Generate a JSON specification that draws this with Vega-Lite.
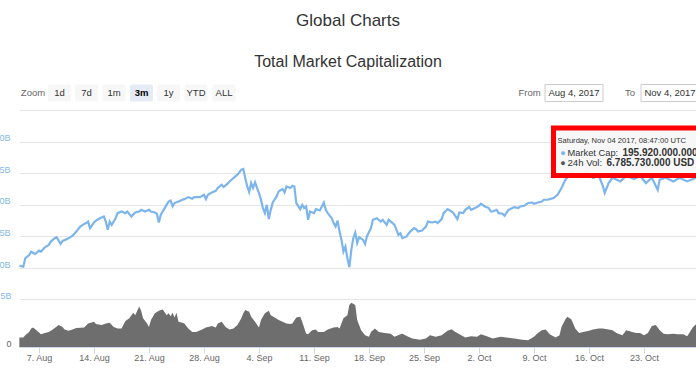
{
  "$schema": "https://vega.github.io/schema/vega-lite/v6.json",
  "width": 677,
  "height": 237,
  "autosize": {"type": "none"},
  "padding": {"left": 19, "top": 110, "right": 0, "bottom": 38},
  "background": "white",
  "title": {
    "text": "Global Charts",
    "subtitle": "Total Market Capitalization",
    "anchor": "middle",
    "dx": -9.5,
    "offset": 13,
    "font": "Liberation Sans",
    "fontSize": 17,
    "fontWeight": "normal",
    "color": "#333333",
    "subtitleFont": "Liberation Sans",
    "subtitleFontSize": 16,
    "subtitleColor": "#333333",
    "subtitlePadding": 24
  },
  "config": {
    "view": {"stroke": null},
    "font": "Liberation Sans",
    "text": {"font": "Liberation Sans"}
  },
  "datasets": {
    "cap": [
      {"t": "2017-08-04T12:00", "cap": 101.8}, {"t": "2017-08-05T00:00", "cap": 101.0}, {"t": "2017-08-05T06:00", "cap": 107.7},
      {"t": "2017-08-05T18:00", "cap": 110.3}, {"t": "2017-08-06T00:00", "cap": 112.9}, {"t": "2017-08-06T12:00", "cap": 111.1},
      {"t": "2017-08-07T00:00", "cap": 113.7}, {"t": "2017-08-07T06:00", "cap": 112.9}, {"t": "2017-08-07T18:00", "cap": 116.4},
      {"t": "2017-08-08T06:00", "cap": 118.3}, {"t": "2017-08-08T12:00", "cap": 120.9}, {"t": "2017-08-09T00:00", "cap": 123.6},
      {"t": "2017-08-09T06:00", "cap": 124.4}, {"t": "2017-08-09T18:00", "cap": 119.0}, {"t": "2017-08-10T00:00", "cap": 121.4},
      {"t": "2017-08-10T12:00", "cap": 122.8}, {"t": "2017-08-11T00:00", "cap": 124.4}, {"t": "2017-08-11T06:00", "cap": 125.4},
      {"t": "2017-08-11T18:00", "cap": 128.8}, {"t": "2017-08-12T06:00", "cap": 132.8}, {"t": "2017-08-12T18:00", "cap": 134.9},
      {"t": "2017-08-13T00:00", "cap": 135.5}, {"t": "2017-08-13T06:00", "cap": 136.7}, {"t": "2017-08-13T12:00", "cap": 131.5},
      {"t": "2017-08-14T00:00", "cap": 136.0}, {"t": "2017-08-14T06:00", "cap": 137.5}, {"t": "2017-08-14T18:00", "cap": 139.4},
      {"t": "2017-08-15T06:00", "cap": 140.7}, {"t": "2017-08-15T12:00", "cap": 136.7}, {"t": "2017-08-15T18:00", "cap": 130.2},
      {"t": "2017-08-16T00:00", "cap": 136.7}, {"t": "2017-08-16T06:00", "cap": 134.1}, {"t": "2017-08-16T18:00", "cap": 139.4},
      {"t": "2017-08-17T00:00", "cap": 143.4}, {"t": "2017-08-17T12:00", "cap": 144.7}, {"t": "2017-08-18T00:00", "cap": 143.4},
      {"t": "2017-08-18T06:00", "cap": 144.7}, {"t": "2017-08-18T18:00", "cap": 140.7}, {"t": "2017-08-19T06:00", "cap": 143.9},
      {"t": "2017-08-19T18:00", "cap": 144.7}, {"t": "2017-08-20T00:00", "cap": 146.0}, {"t": "2017-08-20T12:00", "cap": 144.7},
      {"t": "2017-08-21T00:00", "cap": 146.0}, {"t": "2017-08-21T06:00", "cap": 144.7}, {"t": "2017-08-21T18:00", "cap": 143.9},
      {"t": "2017-08-22T00:00", "cap": 142.9}, {"t": "2017-08-22T06:00", "cap": 136.0}, {"t": "2017-08-22T12:00", "cap": 142.1},
      {"t": "2017-08-23T00:00", "cap": 147.4}, {"t": "2017-08-23T12:00", "cap": 152.6}, {"t": "2017-08-23T18:00", "cap": 153.4},
      {"t": "2017-08-24T00:00", "cap": 148.7}, {"t": "2017-08-24T06:00", "cap": 151.4}, {"t": "2017-08-24T18:00", "cap": 152.6},
      {"t": "2017-08-25T06:00", "cap": 154.0}, {"t": "2017-08-25T12:00", "cap": 154.5}, {"t": "2017-08-26T00:00", "cap": 156.1},
      {"t": "2017-08-26T12:00", "cap": 154.8}, {"t": "2017-08-26T18:00", "cap": 156.1}, {"t": "2017-08-27T12:00", "cap": 156.1},
      {"t": "2017-08-28T00:00", "cap": 157.9}, {"t": "2017-08-28T06:00", "cap": 154.5}, {"t": "2017-08-28T12:00", "cap": 157.9},
      {"t": "2017-08-29T00:00", "cap": 159.8}, {"t": "2017-08-29T12:00", "cap": 161.1}, {"t": "2017-08-29T18:00", "cap": 163.3},
      {"t": "2017-08-30T06:00", "cap": 165.9}, {"t": "2017-08-30T12:00", "cap": 164.1}, {"t": "2017-08-31T00:00", "cap": 166.7},
      {"t": "2017-08-31T06:00", "cap": 168.5}, {"t": "2017-08-31T18:00", "cap": 171.2}, {"t": "2017-09-01T06:00", "cap": 173.8},
      {"t": "2017-09-01T12:00", "cap": 175.6}, {"t": "2017-09-01T18:00", "cap": 177.8}, {"t": "2017-09-02T00:00", "cap": 178.3},
      {"t": "2017-09-02T06:00", "cap": 171.2}, {"t": "2017-09-02T12:00", "cap": 164.5}, {"t": "2017-09-02T18:00", "cap": 160.1},
      {"t": "2017-09-03T00:00", "cap": 167.2}, {"t": "2017-09-03T06:00", "cap": 163.3}, {"t": "2017-09-03T12:00", "cap": 167.7},
      {"t": "2017-09-03T18:00", "cap": 163.3}, {"t": "2017-09-04T00:00", "cap": 159.3}, {"t": "2017-09-04T06:00", "cap": 154.0},
      {"t": "2017-09-04T12:00", "cap": 147.4}, {"t": "2017-09-04T18:00", "cap": 143.4}, {"t": "2017-09-05T00:00", "cap": 150.0},
      {"t": "2017-09-05T06:00", "cap": 138.7}, {"t": "2017-09-05T12:00", "cap": 146.0}, {"t": "2017-09-05T18:00", "cap": 151.8},
      {"t": "2017-09-06T06:00", "cap": 156.6}, {"t": "2017-09-06T12:00", "cap": 160.6}, {"t": "2017-09-07T00:00", "cap": 162.5},
      {"t": "2017-09-07T06:00", "cap": 159.8}, {"t": "2017-09-07T12:00", "cap": 164.5}, {"t": "2017-09-08T00:00", "cap": 163.3},
      {"t": "2017-09-08T06:00", "cap": 165.1}, {"t": "2017-09-08T12:00", "cap": 164.5}, {"t": "2017-09-08T18:00", "cap": 151.4},
      {"t": "2017-09-09T06:00", "cap": 146.6}, {"t": "2017-09-09T12:00", "cap": 150.0}, {"t": "2017-09-09T18:00", "cap": 147.4},
      {"t": "2017-09-10T00:00", "cap": 148.7}, {"t": "2017-09-10T06:00", "cap": 138.1}, {"t": "2017-09-10T12:00", "cap": 144.7},
      {"t": "2017-09-11T00:00", "cap": 143.4}, {"t": "2017-09-11T06:00", "cap": 146.6}, {"t": "2017-09-11T18:00", "cap": 145.5},
      {"t": "2017-09-12T00:00", "cap": 148.7}, {"t": "2017-09-12T06:00", "cap": 151.8}, {"t": "2017-09-12T12:00", "cap": 146.0},
      {"t": "2017-09-12T18:00", "cap": 143.4}, {"t": "2017-09-13T06:00", "cap": 139.4}, {"t": "2017-09-13T12:00", "cap": 135.5},
      {"t": "2017-09-13T18:00", "cap": 132.8}, {"t": "2017-09-14T00:00", "cap": 137.5}, {"t": "2017-09-14T06:00", "cap": 128.8},
      {"t": "2017-09-14T12:00", "cap": 122.2}, {"t": "2017-09-14T18:00", "cap": 112.9}, {"t": "2017-09-15T00:00", "cap": 116.9},
      {"t": "2017-09-15T06:00", "cap": 107.7}, {"t": "2017-09-15T12:00", "cap": 100.6}, {"t": "2017-09-15T18:00", "cap": 114.3},
      {"t": "2017-09-16T00:00", "cap": 123.6}, {"t": "2017-09-16T06:00", "cap": 128.0}, {"t": "2017-09-16T12:00", "cap": 119.8},
      {"t": "2017-09-16T18:00", "cap": 124.4}, {"t": "2017-09-17T06:00", "cap": 122.2}, {"t": "2017-09-17T12:00", "cap": 119.0},
      {"t": "2017-09-17T18:00", "cap": 125.4}, {"t": "2017-09-18T06:00", "cap": 131.5}, {"t": "2017-09-18T12:00", "cap": 138.1},
      {"t": "2017-09-19T00:00", "cap": 139.4}, {"t": "2017-09-19T12:00", "cap": 136.7}, {"t": "2017-09-19T18:00", "cap": 138.1},
      {"t": "2017-09-20T06:00", "cap": 134.1}, {"t": "2017-09-20T12:00", "cap": 138.1}, {"t": "2017-09-21T00:00", "cap": 135.5},
      {"t": "2017-09-21T06:00", "cap": 134.1}, {"t": "2017-09-21T18:00", "cap": 126.2}, {"t": "2017-09-22T00:00", "cap": 127.5},
      {"t": "2017-09-22T06:00", "cap": 123.6}, {"t": "2017-09-22T18:00", "cap": 124.8}, {"t": "2017-09-23T06:00", "cap": 128.8},
      {"t": "2017-09-23T18:00", "cap": 131.5}, {"t": "2017-09-24T00:00", "cap": 130.7}, {"t": "2017-09-24T06:00", "cap": 128.8},
      {"t": "2017-09-24T18:00", "cap": 129.6}, {"t": "2017-09-25T06:00", "cap": 132.8}, {"t": "2017-09-25T12:00", "cap": 136.7},
      {"t": "2017-09-26T00:00", "cap": 136.0}, {"t": "2017-09-26T12:00", "cap": 136.7}, {"t": "2017-09-26T18:00", "cap": 135.5},
      {"t": "2017-09-27T06:00", "cap": 138.7}, {"t": "2017-09-27T12:00", "cap": 143.4}, {"t": "2017-09-28T00:00", "cap": 146.6},
      {"t": "2017-09-28T12:00", "cap": 144.7}, {"t": "2017-09-28T18:00", "cap": 143.4}, {"t": "2017-09-29T06:00", "cap": 138.7},
      {"t": "2017-09-29T12:00", "cap": 143.9}, {"t": "2017-09-30T00:00", "cap": 143.4}, {"t": "2017-09-30T06:00", "cap": 146.0},
      {"t": "2017-09-30T18:00", "cap": 148.2}, {"t": "2017-10-01T00:00", "cap": 146.0}, {"t": "2017-10-01T12:00", "cap": 147.4},
      {"t": "2017-10-02T00:00", "cap": 149.2}, {"t": "2017-10-02T06:00", "cap": 150.8}, {"t": "2017-10-02T18:00", "cap": 148.7},
      {"t": "2017-10-03T06:00", "cap": 147.4}, {"t": "2017-10-03T12:00", "cap": 144.7}, {"t": "2017-10-03T18:00", "cap": 144.7},
      {"t": "2017-10-04T06:00", "cap": 146.0}, {"t": "2017-10-04T12:00", "cap": 143.4}, {"t": "2017-10-05T00:00", "cap": 142.9},
      {"t": "2017-10-05T06:00", "cap": 141.3}, {"t": "2017-10-05T18:00", "cap": 146.0}, {"t": "2017-10-06T00:00", "cap": 146.6},
      {"t": "2017-10-06T12:00", "cap": 148.2}, {"t": "2017-10-07T00:00", "cap": 147.4}, {"t": "2017-10-07T06:00", "cap": 148.7},
      {"t": "2017-10-07T18:00", "cap": 149.2}, {"t": "2017-10-08T06:00", "cap": 151.4}, {"t": "2017-10-08T18:00", "cap": 151.8},
      {"t": "2017-10-09T00:00", "cap": 150.8}, {"t": "2017-10-09T12:00", "cap": 151.8}, {"t": "2017-10-10T00:00", "cap": 152.6},
      {"t": "2017-10-10T06:00", "cap": 154.0}, {"t": "2017-10-10T18:00", "cap": 154.0}, {"t": "2017-10-11T00:00", "cap": 154.5},
      {"t": "2017-10-11T12:00", "cap": 155.3}, {"t": "2017-10-12T00:00", "cap": 157.9}, {"t": "2017-10-12T12:00", "cap": 163.3},
      {"t": "2017-10-13T00:00", "cap": 169.8}, {"t": "2017-10-13T12:00", "cap": 173.8}, {"t": "2017-10-13T18:00", "cap": 176.2},
      {"t": "2017-10-14T06:00", "cap": 174.6}, {"t": "2017-10-14T18:00", "cap": 173.0}, {"t": "2017-10-15T18:00", "cap": 176.2},
      {"t": "2017-10-16T12:00", "cap": 171.2}, {"t": "2017-10-17T06:00", "cap": 173.0}, {"t": "2017-10-17T18:00", "cap": 165.1},
      {"t": "2017-10-18T00:00", "cap": 159.3}, {"t": "2017-10-18T12:00", "cap": 167.2}, {"t": "2017-10-19T00:00", "cap": 171.4},
      {"t": "2017-10-20T00:00", "cap": 168.5}, {"t": "2017-10-20T18:00", "cap": 173.0}, {"t": "2017-10-21T18:00", "cap": 170.4},
      {"t": "2017-10-22T12:00", "cap": 173.0}, {"t": "2017-10-23T06:00", "cap": 167.2}, {"t": "2017-10-24T00:00", "cap": 171.4},
      {"t": "2017-10-24T18:00", "cap": 161.9}, {"t": "2017-10-25T00:00", "cap": 169.8}, {"t": "2017-10-25T18:00", "cap": 171.4},
      {"t": "2017-10-26T18:00", "cap": 168.5}, {"t": "2017-10-27T12:00", "cap": 171.4}, {"t": "2017-10-28T12:00", "cap": 168.5},
      {"t": "2017-10-29T06:00", "cap": 170.4}, {"t": "2017-10-30T06:00", "cap": 173.0}
    ],
    "vol": [
      {"t": "2017-08-04T12:00", "vol": 3.0}, {"t": "2017-08-05T00:00", "vol": 3.0}, {"t": "2017-08-05T06:00", "vol": 3.7},
      {"t": "2017-08-05T18:00", "vol": 4.7}, {"t": "2017-08-06T00:00", "vol": 5.8}, {"t": "2017-08-06T06:00", "vol": 6.1},
      {"t": "2017-08-06T18:00", "vol": 5.1}, {"t": "2017-08-07T06:00", "vol": 4.0}, {"t": "2017-08-07T18:00", "vol": 4.4},
      {"t": "2017-08-08T06:00", "vol": 4.7}, {"t": "2017-08-08T18:00", "vol": 5.5}, {"t": "2017-08-09T12:00", "vol": 6.9},
      {"t": "2017-08-10T00:00", "vol": 6.3}, {"t": "2017-08-10T06:00", "vol": 5.5}, {"t": "2017-08-10T18:00", "vol": 5.1},
      {"t": "2017-08-11T06:00", "vol": 5.5}, {"t": "2017-08-11T18:00", "vol": 6.0}, {"t": "2017-08-12T18:00", "vol": 6.1},
      {"t": "2017-08-13T06:00", "vol": 7.4}, {"t": "2017-08-14T00:00", "vol": 7.9}, {"t": "2017-08-14T06:00", "vol": 7.2},
      {"t": "2017-08-15T00:00", "vol": 6.9}, {"t": "2017-08-15T12:00", "vol": 7.4}, {"t": "2017-08-16T00:00", "vol": 7.6},
      {"t": "2017-08-16T12:00", "vol": 6.3}, {"t": "2017-08-17T00:00", "vol": 5.8}, {"t": "2017-08-17T12:00", "vol": 5.8},
      {"t": "2017-08-18T00:00", "vol": 8.2}, {"t": "2017-08-18T12:00", "vol": 9.0}, {"t": "2017-08-19T00:00", "vol": 10.8},
      {"t": "2017-08-19T06:00", "vol": 10.0}, {"t": "2017-08-19T18:00", "vol": 12.7}, {"t": "2017-08-20T00:00", "vol": 11.4},
      {"t": "2017-08-20T06:00", "vol": 9.0}, {"t": "2017-08-20T18:00", "vol": 7.4}, {"t": "2017-08-21T00:00", "vol": 6.3},
      {"t": "2017-08-21T06:00", "vol": 8.5}, {"t": "2017-08-21T18:00", "vol": 10.6}, {"t": "2017-08-22T06:00", "vol": 11.4},
      {"t": "2017-08-22T18:00", "vol": 11.8}, {"t": "2017-08-23T06:00", "vol": 10.0}, {"t": "2017-08-23T12:00", "vol": 10.6},
      {"t": "2017-08-23T18:00", "vol": 9.7}, {"t": "2017-08-24T00:00", "vol": 10.8}, {"t": "2017-08-24T06:00", "vol": 9.3},
      {"t": "2017-08-24T12:00", "vol": 10.8}, {"t": "2017-08-24T18:00", "vol": 7.9}, {"t": "2017-08-25T06:00", "vol": 7.6},
      {"t": "2017-08-25T12:00", "vol": 7.4}, {"t": "2017-08-26T00:00", "vol": 5.8}, {"t": "2017-08-26T12:00", "vol": 4.7},
      {"t": "2017-08-27T00:00", "vol": 4.7}, {"t": "2017-08-27T18:00", "vol": 5.5}, {"t": "2017-08-28T06:00", "vol": 6.1},
      {"t": "2017-08-29T00:00", "vol": 6.6}, {"t": "2017-08-29T12:00", "vol": 6.1}, {"t": "2017-08-29T18:00", "vol": 7.4},
      {"t": "2017-08-30T06:00", "vol": 7.9}, {"t": "2017-08-30T18:00", "vol": 6.3}, {"t": "2017-08-31T06:00", "vol": 5.5},
      {"t": "2017-08-31T18:00", "vol": 5.8}, {"t": "2017-09-01T06:00", "vol": 6.9}, {"t": "2017-09-01T18:00", "vol": 9.0},
      {"t": "2017-09-02T00:00", "vol": 10.6}, {"t": "2017-09-02T06:00", "vol": 11.6}, {"t": "2017-09-02T18:00", "vol": 11.1},
      {"t": "2017-09-03T00:00", "vol": 9.5}, {"t": "2017-09-03T12:00", "vol": 7.9}, {"t": "2017-09-04T00:00", "vol": 6.1},
      {"t": "2017-09-04T06:00", "vol": 8.5}, {"t": "2017-09-04T18:00", "vol": 10.6}, {"t": "2017-09-05T06:00", "vol": 11.4},
      {"t": "2017-09-05T12:00", "vol": 10.0}, {"t": "2017-09-06T00:00", "vol": 9.3}, {"t": "2017-09-06T12:00", "vol": 8.5},
      {"t": "2017-09-07T00:00", "vol": 7.9}, {"t": "2017-09-07T12:00", "vol": 7.4}, {"t": "2017-09-08T00:00", "vol": 7.2},
      {"t": "2017-09-08T06:00", "vol": 7.4}, {"t": "2017-09-08T18:00", "vol": 9.3}, {"t": "2017-09-09T06:00", "vol": 9.5},
      {"t": "2017-09-09T12:00", "vol": 7.9}, {"t": "2017-09-10T00:00", "vol": 4.2}, {"t": "2017-09-10T06:00", "vol": 4.0},
      {"t": "2017-09-10T18:00", "vol": 5.3}, {"t": "2017-09-11T06:00", "vol": 5.5}, {"t": "2017-09-11T12:00", "vol": 4.7},
      {"t": "2017-09-12T06:00", "vol": 4.7}, {"t": "2017-09-12T18:00", "vol": 5.5}, {"t": "2017-09-13T12:00", "vol": 6.1},
      {"t": "2017-09-14T00:00", "vol": 6.3}, {"t": "2017-09-14T06:00", "vol": 5.8}, {"t": "2017-09-14T18:00", "vol": 9.0},
      {"t": "2017-09-15T06:00", "vol": 10.0}, {"t": "2017-09-15T12:00", "vol": 13.2}, {"t": "2017-09-15T18:00", "vol": 13.9},
      {"t": "2017-09-16T06:00", "vol": 13.2}, {"t": "2017-09-16T12:00", "vol": 8.5}, {"t": "2017-09-17T00:00", "vol": 5.3},
      {"t": "2017-09-17T12:00", "vol": 3.7}, {"t": "2017-09-18T00:00", "vol": 3.2}, {"t": "2017-09-18T06:00", "vol": 4.7},
      {"t": "2017-09-18T18:00", "vol": 5.8}, {"t": "2017-09-19T06:00", "vol": 4.7}, {"t": "2017-09-20T00:00", "vol": 4.4},
      {"t": "2017-09-20T18:00", "vol": 4.2}, {"t": "2017-09-21T06:00", "vol": 3.2}, {"t": "2017-09-22T00:00", "vol": 4.0},
      {"t": "2017-09-22T06:00", "vol": 4.2}, {"t": "2017-09-23T00:00", "vol": 3.2}, {"t": "2017-09-23T12:00", "vol": 2.7},
      {"t": "2017-09-24T12:00", "vol": 2.3}, {"t": "2017-09-25T06:00", "vol": 2.7}, {"t": "2017-09-25T18:00", "vol": 3.7},
      {"t": "2017-09-26T12:00", "vol": 3.2}, {"t": "2017-09-27T06:00", "vol": 3.7}, {"t": "2017-09-28T00:00", "vol": 5.1},
      {"t": "2017-09-28T12:00", "vol": 5.6}, {"t": "2017-09-29T00:00", "vol": 4.7}, {"t": "2017-09-29T18:00", "vol": 3.7},
      {"t": "2017-09-30T06:00", "vol": 3.0}, {"t": "2017-10-01T00:00", "vol": 3.4}, {"t": "2017-10-01T18:00", "vol": 3.2},
      {"t": "2017-10-02T06:00", "vol": 4.0}, {"t": "2017-10-03T00:00", "vol": 3.4}, {"t": "2017-10-03T18:00", "vol": 2.7},
      {"t": "2017-10-04T18:00", "vol": 3.2}, {"t": "2017-10-05T12:00", "vol": 3.0}, {"t": "2017-10-06T12:00", "vol": 2.7},
      {"t": "2017-10-07T12:00", "vol": 2.3}, {"t": "2017-10-08T06:00", "vol": 2.1}, {"t": "2017-10-09T00:00", "vol": 3.2},
      {"t": "2017-10-09T12:00", "vol": 4.4}, {"t": "2017-10-10T00:00", "vol": 5.3}, {"t": "2017-10-10T12:00", "vol": 5.5},
      {"t": "2017-10-11T00:00", "vol": 4.0}, {"t": "2017-10-11T18:00", "vol": 3.0}, {"t": "2017-10-12T06:00", "vol": 3.7},
      {"t": "2017-10-12T12:00", "vol": 6.3}, {"t": "2017-10-13T00:00", "vol": 8.7}, {"t": "2017-10-13T06:00", "vol": 9.5},
      {"t": "2017-10-13T18:00", "vol": 8.7}, {"t": "2017-10-14T06:00", "vol": 5.8}, {"t": "2017-10-14T18:00", "vol": 4.4},
      {"t": "2017-10-15T06:00", "vol": 4.7}, {"t": "2017-10-16T00:00", "vol": 5.1}, {"t": "2017-10-16T12:00", "vol": 5.5},
      {"t": "2017-10-17T06:00", "vol": 5.8}, {"t": "2017-10-17T18:00", "vol": 5.8}, {"t": "2017-10-18T12:00", "vol": 5.5},
      {"t": "2017-10-19T00:00", "vol": 5.3}, {"t": "2017-10-19T12:00", "vol": 4.4}, {"t": "2017-10-20T06:00", "vol": 3.7},
      {"t": "2017-10-20T18:00", "vol": 5.3}, {"t": "2017-10-21T12:00", "vol": 4.7}, {"t": "2017-10-22T00:00", "vol": 4.4},
      {"t": "2017-10-22T12:00", "vol": 4.4}, {"t": "2017-10-23T00:00", "vol": 3.7}, {"t": "2017-10-23T12:00", "vol": 4.4},
      {"t": "2017-10-24T00:00", "vol": 6.6}, {"t": "2017-10-24T12:00", "vol": 6.9}, {"t": "2017-10-25T00:00", "vol": 5.3},
      {"t": "2017-10-25T12:00", "vol": 4.2}, {"t": "2017-10-26T00:00", "vol": 4.0}, {"t": "2017-10-26T18:00", "vol": 4.2},
      {"t": "2017-10-27T06:00", "vol": 4.0}, {"t": "2017-10-28T00:00", "vol": 4.0}, {"t": "2017-10-28T12:00", "vol": 3.4},
      {"t": "2017-10-29T06:00", "vol": 6.3}, {"t": "2017-10-29T18:00", "vol": 7.4}, {"t": "2017-10-30T12:00", "vol": 8.5}
    ],
    "controls": [
      {"label": "Zoom", "kind": "caption", "at": "2017-08-06T05:42"},
      {"label": "1d", "kind": "button", "at": "2017-08-09T14:36"},
      {"label": "7d", "kind": "button", "at": "2017-08-13T01:06"},
      {"label": "1m", "kind": "button", "at": "2017-08-16T13:06"},
      {"label": "3m", "kind": "button", "at": "2017-08-20T01:06"},
      {"label": "1y", "kind": "button", "at": "2017-08-23T11:36"},
      {"label": "YTD", "kind": "button", "at": "2017-08-26T23:36"},
      {"label": "ALL", "kind": "button", "at": "2017-08-30T13:06"},
      {"label": "From", "kind": "caption", "at": "2017-10-08T10:18"},
      {"label": "Aug 4, 2017", "kind": "input", "at": "2017-10-14T02:18"},
      {"label": "To", "kind": "caption", "at": "2017-10-21T05:18"},
      {"label": "Nov 4, 2017", "kind": "input", "at": "2017-10-26T07:30"}
    ],
    "tip": [
      {"when": "Saturday, Nov 04 2017, 08:47:00 UTC", "capLabel": "Market Cap:", "capValue": "195.920.000.000 USD", "volLabel": "24h Vol:", "volValue": "6.785.730.000 USD"}
    ]
  },
  "layer": [
    {
      "layer": [
        {
          "data": {"name": "cap"},
          "mark": {"type": "line", "color": "#7cb5ec", "strokeWidth": 2.2, "clip": true},
          "encoding": {
            "x": {
              "field": "t", "type": "temporal",
              "scale": {"domain": [{"year": 2017, "month": 8, "date": 4, "hours": 10, "minutes": 54}, {"year": 2017, "month": 10, "date": 29, "hours": 14, "minutes": 54}]},
              "axis": {
                "orient": "bottom",
                "values": [
                  {"year": 2017, "month": 8, "date": 7}, {"year": 2017, "month": 8, "date": 14}, {"year": 2017, "month": 8, "date": 21},
                  {"year": 2017, "month": 8, "date": 28}, {"year": 2017, "month": 9, "date": 4}, {"year": 2017, "month": 9, "date": 11},
                  {"year": 2017, "month": 9, "date": 18}, {"year": 2017, "month": 9, "date": 25}, {"year": 2017, "month": 10, "date": 2},
                  {"year": 2017, "month": 10, "date": 9}, {"year": 2017, "month": 10, "date": 16}, {"year": 2017, "month": 10, "date": 23}
                ],
                "format": "%-d. %b",
                "title": null,
                "grid": false,
                "labelFont": "Liberation Sans",
                "labelFontSize": 9,
                "labelColor": "#666666",
                "domainColor": "#ccd6eb",
                "tickColor": "#ccd6eb",
                "tickSize": 6,
                "labelPadding": 0,
                "labelFlush": false,
                "labelOverlap": false
              }
            },
            "y": {
              "field": "cap", "type": "quantitative",
              "scale": {"domain": [37.5, 225], "nice": false, "zero": false},
              "axis": {
                "orient": "left",
                "values": [100, 125, 150, 175, 200, 225],
                "labelExpr": "datum.value >= 225 ? '' : datum.value + 'B'",
                "title": null,
                "grid": true,
                "gridColor": "#e6e6e6",
                "domain": false,
                "ticks": false,
                "labelFont": "Liberation Sans",
                "labelFontSize": 9,
                "labelColor": "#86b9ea",
                "labelPadding": 9,
                "labelOffset": -4
              }
            }
          }
        },
        {
          "data": {"name": "tip"},
          "mark": {"type": "rect", "fill": "#f7f7f7", "fillOpacity": 0.95, "stroke": "#ff0000", "strokeWidth": 5, "clip": true},
          "encoding": {
            "x": {"datum": {"year": 2017, "month": 10, "date": 11, "hours": 11, "minutes": 36}, "type": "temporal", "scale": {"domain": [{"year": 2017, "month": 8, "date": 4, "hours": 10, "minutes": 54}, {"year": 2017, "month": 10, "date": 29, "hours": 14, "minutes": 54}]}},
            "x2": {"datum": {"year": 2017, "month": 11, "date": 5}},
            "y": {"datum": 210.8, "type": "quantitative", "scale": {"domain": [37.5, 225], "nice": false, "zero": false}},
            "y2": {"datum": 173.2}
          }
        },
        {
          "data": {"name": "tip"},
          "mark": {"type": "text", "align": "left", "baseline": "middle", "dx": 4, "fontSize": 7.6, "color": "#333333"},
          "encoding": {
            "x": {"datum": {"year": 2017, "month": 10, "date": 11, "hours": 11, "minutes": 36}, "type": "temporal"},
            "y": {"datum": 200.5, "type": "quantitative"},
            "text": {"field": "when"}
          }
        },
        {
          "data": {"name": "tip"},
          "mark": {"type": "text", "align": "center", "baseline": "middle", "dx": 9.5, "fontSize": 9, "color": "#7cb5ec", "text": "●"},
          "encoding": {
            "x": {"datum": {"year": 2017, "month": 10, "date": 11, "hours": 11, "minutes": 36}, "type": "temporal"},
            "y": {"datum": 190.7, "type": "quantitative"}
          }
        },
        {
          "data": {"name": "tip"},
          "mark": {"type": "text", "align": "center", "baseline": "middle", "dx": 9.5, "fontSize": 9, "color": "#555555", "text": "●"},
          "encoding": {
            "x": {"datum": {"year": 2017, "month": 10, "date": 11, "hours": 11, "minutes": 36}, "type": "temporal"},
            "y": {"datum": 182.8, "type": "quantitative"}
          }
        },
        {
          "data": {"name": "tip"},
          "mark": {"type": "text", "align": "left", "baseline": "middle", "dx": 14, "fontSize": 9.3, "color": "#333333"},
          "encoding": {
            "x": {"datum": {"year": 2017, "month": 10, "date": 11, "hours": 11, "minutes": 36}, "type": "temporal"},
            "y": {"datum": 190.7, "type": "quantitative"},
            "text": {"field": "capLabel"}
          }
        },
        {
          "data": {"name": "tip"},
          "mark": {"type": "text", "align": "left", "baseline": "middle", "dx": 69, "fontSize": 10, "fontWeight": "bold", "color": "#333333"},
          "encoding": {
            "x": {"datum": {"year": 2017, "month": 10, "date": 11, "hours": 11, "minutes": 36}, "type": "temporal"},
            "y": {"datum": 190.7, "type": "quantitative"},
            "text": {"field": "capValue"}
          }
        },
        {
          "data": {"name": "tip"},
          "mark": {"type": "text", "align": "left", "baseline": "middle", "dx": 14, "fontSize": 9.6, "color": "#333333"},
          "encoding": {
            "x": {"datum": {"year": 2017, "month": 10, "date": 11, "hours": 11, "minutes": 36}, "type": "temporal"},
            "y": {"datum": 182.8, "type": "quantitative"},
            "text": {"field": "volLabel"}
          }
        },
        {
          "data": {"name": "tip"},
          "mark": {"type": "text", "align": "left", "baseline": "middle", "dx": 53, "fontSize": 10, "fontWeight": "bold", "color": "#333333"},
          "encoding": {
            "x": {"datum": {"year": 2017, "month": 10, "date": 11, "hours": 11, "minutes": 36}, "type": "temporal"},
            "y": {"datum": 182.8, "type": "quantitative"},
            "text": {"field": "volValue"}
          }
        },
        {
          "data": {"name": "controls"},
          "transform": [{"filter": "datum.kind == 'button'"}],
          "mark": {"type": "rect", "width": 23, "height": 17, "cornerRadius": 2},
          "encoding": {
            "x": {"field": "at", "type": "temporal"},
            "y": {"datum": 238.45, "type": "quantitative"},
            "fill": {"condition": {"test": "datum.label == '3m'", "value": "#e6ebf5"}, "value": "#f7f7f7"}
          }
        },
        {
          "data": {"name": "controls"},
          "transform": [{"filter": "datum.kind == 'input'"}],
          "mark": {"type": "rect", "width": 58, "height": 17, "fill": "#ffffff", "stroke": "#cccccc", "strokeWidth": 1},
          "encoding": {
            "x": {"field": "at", "type": "temporal"},
            "y": {"datum": 238.45, "type": "quantitative"}
          }
        },
        {
          "data": {"name": "controls"},
          "transform": [{"filter": "datum.label != '3m'"}],
          "mark": {"type": "text", "align": "center", "baseline": "middle", "fontSize": 9.5},
          "encoding": {
            "x": {"field": "at", "type": "temporal"},
            "y": {"datum": 238.45, "type": "quantitative"},
            "text": {"field": "label"},
            "color": {"condition": {"test": "datum.kind == 'caption'", "value": "#666666"}, "value": "#333333"}
          }
        },
        {
          "data": {"name": "controls"},
          "transform": [{"filter": "datum.label == '3m'"}],
          "mark": {"type": "text", "align": "center", "baseline": "middle", "fontSize": 9.5, "fontWeight": "bold", "color": "#000000"},
          "encoding": {
            "x": {"field": "at", "type": "temporal"},
            "y": {"datum": 238.45, "type": "quantitative"},
            "text": {"field": "label"}
          }
        }
      ]
    },
    {
      "data": {"name": "vol"},
      "mark": {"type": "area", "color": "#6e6e6e", "clip": true},
      "encoding": {
        "x": {
          "field": "t", "type": "temporal",
          "scale": {"domain": [{"year": 2017, "month": 8, "date": 4, "hours": 10, "minutes": 54}, {"year": 2017, "month": 10, "date": 29, "hours": 14, "minutes": 54}]}
        },
        "y": {
          "field": "vol", "type": "quantitative",
          "scale": {"domain": [0, 74.5], "nice": false, "zero": true},
          "axis": {
            "orient": "left",
            "values": [0, 15],
            "labelExpr": "datum.value == 0 ? '0' : datum.value + 'B'",
            "title": null,
            "grid": true,
            "gridColor": "#e6e6e6",
            "domain": false,
            "ticks": false,
            "labelFont": "Liberation Sans",
            "labelFontSize": 9,
            "labelColor": {"condition": {"test": "datum.value == 0", "value": "#666666"}, "value": "#86b9ea"},
            "labelPadding": 8,
            "labelOffset": -4
          }
        }
      }
    }
  ],
  "resolve": {"scale": {"y": "independent"}, "axis": {"y": "independent"}}
}
